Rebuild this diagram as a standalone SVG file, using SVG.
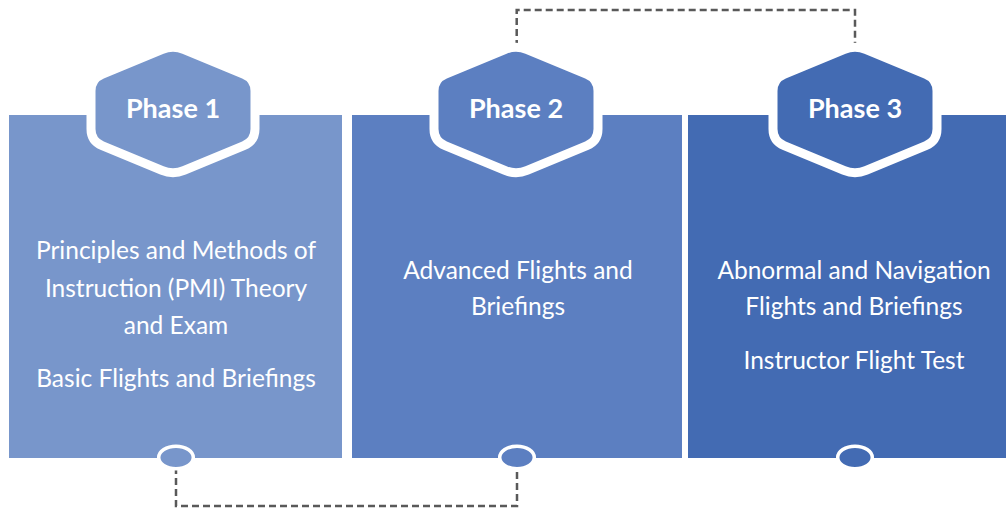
<svg xmlns="http://www.w3.org/2000/svg" width="1006" height="510" viewBox="0 0 1006 510">
  <style>
    .lbl { font-family: Lato, "Open Sans", "Liberation Sans", sans-serif; font-weight: 700; font-size: 27px; fill: #ffffff; text-anchor: middle; }
    .body { font-family: Lato, "Open Sans", "Liberation Sans", sans-serif; font-size: 24.5px; fill: #ffffff; text-anchor: middle; }
    .hex { stroke: #ffffff; stroke-width: 9; }
    .dot { stroke: #ffffff; stroke-width: 3.5; }
    .conn { fill: none; stroke: #595959; stroke-width: 2.5; stroke-dasharray: 7 4; }
  </style>
  <defs>
    <path id="hexShape" d="M -11.1,-60.4 Q 0,-65 11.1,-60.4 L 70.9,-35.6 Q 82,-31 82,-19 L 82,19 Q 82,31 70.9,35.6 L 11.1,60.4 Q 0,65 -11.1,60.4 L -70.9,35.6 Q -82,31 -82,19 L -82,-19 Q -82,-31 -70.9,-35.6 Z"/>
  </defs>
  <rect width="1006" height="510" fill="#ffffff"/>

  <g id="connectors">
    <path class="conn" d="M 516.7 47 V 10 H 855 V 47"/>
    <path class="conn" d="M 176 467 V 506 H 517 V 467"/>
  </g>

  <g id="phase1">
    <rect x="9" y="115" width="333" height="343" fill="#7896CB"/>
    <use href="#hexShape" transform="translate(173,110)" class="hex" fill="#7896CB"/>
    <text class="lbl" x="173" y="117.5">Phase 1</text>
    <text class="body" x="176" y="259">Principles and Methods of</text>
    <text class="body" x="176" y="296.5">Instruction (PMI) Theory</text>
    <text class="body" x="176" y="334">and Exam</text>
    <text class="body" x="176" y="387">Basic Flights and Briefings</text>
    <ellipse class="dot" cx="176" cy="457.5" rx="17.3" ry="11.3" fill="#7896CB"/>
  </g>

  <g id="phase2">
    <rect x="352" y="115" width="330" height="343" fill="#5C7FC1"/>
    <use href="#hexShape" transform="translate(516,110)" class="hex" fill="#5C7FC1"/>
    <text class="lbl" x="516" y="117.5">Phase 2</text>
    <text class="body" x="518" y="278.5">Advanced Flights and</text>
    <text class="body" x="518" y="315">Briefings</text>
    <ellipse class="dot" cx="517" cy="457.5" rx="17.3" ry="11.3" fill="#5C7FC1"/>
  </g>

  <g id="phase3">
    <rect x="688" y="115" width="318" height="343" fill="#436BB3"/>
    <use href="#hexShape" transform="translate(855,110)" class="hex" fill="#436BB3"/>
    <text class="lbl" x="855" y="117.5">Phase 3</text>
    <text class="body" x="854" y="278.5">Abnormal and Navigation</text>
    <text class="body" x="854" y="315">Flights and Briefings</text>
    <text class="body" x="854" y="369">Instructor Flight Test</text>
    <ellipse class="dot" cx="855" cy="457.5" rx="17.3" ry="11.3" fill="#436BB3"/>
  </g>
</svg>
